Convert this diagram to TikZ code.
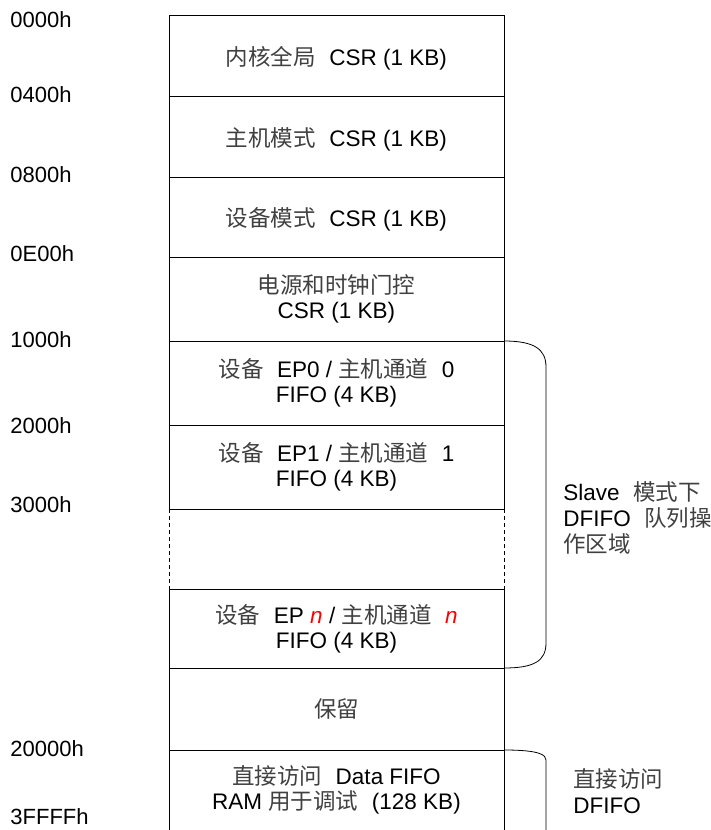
\documentclass[tikz,border=0pt]{standalone}
\usepackage{fontspec}
\setmainfont{Liberation Sans}
\newfontfamily\cjk{Noto Sans CJK SC}
\usetikzlibrary{positioning}
\newcommand{\zh}[1]{{\cjk\color{black!75}#1}}
\newcommand{\cjkgap}{\hspace{0.6em}}
\newcommand{\varn}{\textcolor{red}{\textit{n}}}

\begin{document}
\begin{tikzpicture}[x=1pt,y=-1pt,line width=0.8pt,
  region/.style={draw,minimum width=335pt,outer sep=0pt,inner sep=0pt,align=center,font=\fontsize{22.5}{25}\selectfont},
  openregion/.style={minimum width=335pt,outer sep=0pt,inner sep=0pt,align=center,font=\fontsize{22.5}{25}\selectfont},
  addr/.style={anchor=west,inner sep=0pt,font=\fontsize{22}{25}\selectfont},
  note/.style={anchor=west,align=left,inner sep=0pt,font=\fontsize{22.5}{26}\selectfont}]
  \useasboundingbox (0,0) rectangle (711,830);
  % memory regions
  \node[region,minimum height=81pt,anchor=north] (core) at (336.5,15) {\rule{0pt}{24pt}\zh{内核全局}\cjkgap CSR (1 KB)};
  \node[region,minimum height=81pt,below=0pt of core] (host) {\rule{0pt}{24pt}\zh{主机模式}\cjkgap CSR (1 KB)};
  \node[region,minimum height=80pt,below=0pt of host] (dev) {\rule{0pt}{24pt}\zh{设备模式}\cjkgap CSR (1 KB)};
  \node[region,minimum height=84pt,below=0pt of dev] (pwr) {\zh{电源和时钟门控}\\CSR (1 KB)};
  \node[region,minimum height=84pt,below=0pt of pwr] (ep0) {\zh{设备}\cjkgap EP0 / \zh{主机通道}\cjkgap 0\\FIFO (4 KB)};
  \node[region,minimum height=84pt,below=0pt of ep0] (ep1) {\zh{设备}\cjkgap EP1 / \zh{主机通道}\cjkgap 1\\FIFO (4 KB)};
  \node[openregion,minimum height=80pt,below=0pt of ep1] (gap) {};
  \node[region,minimum height=79pt,below=0pt of gap] (epn) {\zh{设备}\cjkgap EP \varn{} / \zh{主机通道}\cjkgap \varn\\FIFO (4 KB)};
  \node[region,minimum height=82pt,below=0pt of epn] (rsv) {\zh{保留}};
  \node[openregion,minimum height=80pt,below=0pt of rsv] (dram) {\zh{直接访问}\cjkgap Data FIFO\\RAM \zh{用于调试}\cjkgap (128 KB)};
  \draw[dash pattern=on 4pt off 3pt] (gap.north west) -- (gap.south west);
  \draw[dash pattern=on 4pt off 3pt] (gap.north east) -- (gap.south east);
  \draw (dram.south west) -- (dram.north west) -- (dram.north east) -- (dram.south east);

  % addresses
  \node[addr] (a0) at (10,20) {0000h};
  \node[addr] (a1) at (10,95) {0400h};
  \node[addr] (a2) at (10,175) {0800h};
  \node[addr] (a3) at (10,254) {0E00h};
  \node[addr] (a4) at (10,340) {1000h};
  \node[addr] (a5) at (10,426) {2000h};
  \node[addr] (a6) at (10,505) {3000h};
  \node[addr] (a7) at (10,749) {20000h};
  \node[addr] (a8) at (10,817) {3FFFFh};

  % braces
  \coordinate (slavetop) at (546,367);
  \coordinate (slavebot) at (546,643);
  \draw (ep0.north east) .. controls +(30,0) and +(0,-18) .. (slavetop) -- (slavebot) .. controls +(0,18) and +(30,0) .. (epn.south east);
  \coordinate (directtop) at (546,760);
  \coordinate (directbot) at (546,830);
  \draw (dram.north east) .. controls +(36,0) and +(0,-5) .. (directtop) -- (directbot);

  \node[note] (slavenote) at (563,518) {Slave\cjkgap\zh{模式下}\\DFIFO\cjkgap\zh{队列操}\\\zh{作区域}};
  \node[note] (directnote) at (573,791) {\zh{直接访问}\\DFIFO};
\end{tikzpicture}
\end{document}
